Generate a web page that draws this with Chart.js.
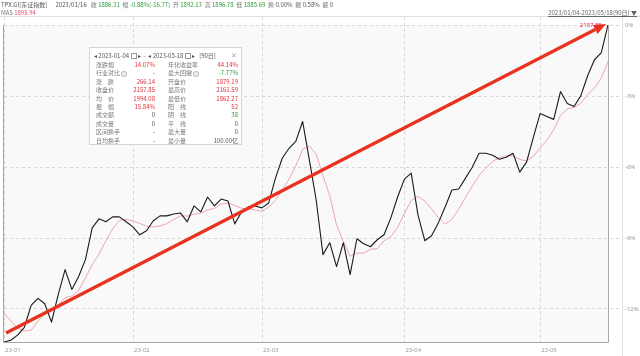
<!DOCTYPE html>
<html>
<head>
<meta charset="utf-8">
<script src="https://cdn.jsdelivr.net/npm/chart.js@4.4.0/dist/chart.umd.min.js"></script>
<style>
  html, body { margin: 0; padding: 0; background: #fff; }
  #wrap { position: relative; width: 640px; height: 356px; overflow: hidden;
          font-family: "Noto Sans CJK SC", "Noto Sans", sans-serif; }
  canvas { position: absolute; left: 0; top: 0; }
  .hdr { position: absolute; left: 1px; top: 1px; font-size: 6px; line-height: 7px; color: #777; white-space: pre; }
  .hdr2 { position: absolute; left: 1px; top: 9px; font-size: 6px; line-height: 7px; color: #777; white-space: pre; }
  .range { position: absolute; right: 3px; top: 9px; font-size: 6px; line-height: 7px; color: #666;
           text-decoration: underline; white-space: pre; }
  .g { color: #2f9a3c; }
  .r { color: #e0303a; }
  .k { color: #555; }
  .p { color: #e0506a; }
  #panel { position: absolute; left: 89px; top: 47px; width: 153px; height: 98px;
           background: rgba(255,255,255,0.96); border: 1px solid #d4d4d4; box-sizing: border-box;
           font-size: 6px; color: #777; }
  #panel .title { position: absolute; left: 4px; top: 4px; height: 8px; line-height: 8px; white-space: pre; color: #555; }
  #panel .x { position: absolute; right: 4px; top: 3px; line-height: 8px; color: #aaa; font-size: 7px; }
  #panel .row { position: absolute; left: 0; width: 100%; height: 8px; line-height: 8px; }
  #panel .l1 { position: absolute; left: 6px; }
  #panel .v1 { position: absolute; right: 86px; }
  #panel .l2 { position: absolute; left: 78px; }
  #panel .v2 { position: absolute; right: 3px; }
  .q { display: inline-block; width: 4px; height: 4px; border: 0.5px solid #aaa; border-radius: 50%;
       font-size: 4px; line-height: 4px; text-align: center; color: #aaa; vertical-align: middle; }
  .cal { display: inline-block; width: 4px; height: 4px; border: 0.5px solid #999; vertical-align: middle; }
</style>
</head>
<body>
<div id="wrap">
  <canvas id="myChart" width="640" height="356"></canvas>
  <div class="hdr"><span class="k">TPX.GI[东证指数]</span>      <span class="k">2023/01/16</span>   收 <span class="g">1886.31</span>  幅 <span class="g">-0.88%(-16.77)</span>  开 <span class="g">1892.13</span>  高 <span class="g">1896.78</span>  低 <span class="g">1885.69</span>  换 <span class="k">0.00%</span>  振 <span class="k">0.58%</span>  额 <span class="k">0</span></div>
  <div class="hdr2">MA5 <span class="p">1895.94</span></div>
  <div class="range">2023/01/04-2023/05/18(90日) ▼</div>
  <div id="panel"></div>
</div>
<script>
// closes of TPX.GI, 2023-01-04 .. 2023-05-18 (90 trading days)
const closes = [
  1868.2, 1869.8, 1874.4, 1881.6, 1901.6, 1908.0, 1903.1, 1886.3, 1911.6, 1934.3,
  1916.2, 1928.0, 1943.4, 1972.5, 1980.7, 1978.0, 1982.5, 1982.5, 1978.0, 1973.4,
  1966.1, 1969.8, 1978.9, 1983.4, 1983.4, 1985.2, 1986.1, 1978.0, 1992.5, 1987.0,
  2000.7, 1992.5, 1998.8, 1997.0, 1976.1, 1987.0, 1991.6, 1992.5, 1990.7, 1995.2,
  2017.9, 2036.1, 2045.2, 2051.5, 2069.7, 2034.3, 1997.9, 1948.0, 1958.9, 1937.1,
  1958.9, 1929.8, 1962.5, 1958.0, 1955.2, 1961.6, 1966.1, 1981.6, 2000.7, 2017.0,
  2022.5, 1984.3, 1960.7, 1965.2, 1977.0, 1991.6, 2007.0, 2007.9, 2017.9, 2027.9,
  2040.6, 2040.6, 2038.8, 2035.2, 2037.0, 2040.6, 2023.4, 2032.5, 2055.2, 2077.0,
  2074.3, 2071.6, 2097.0, 2086.1, 2083.4, 2093.3, 2111.5, 2126.1, 2132.4, 2157.85
];

// MA5 line as shown
const ma5 = [
  1894.6, 1887.3, 1880.9, 1878.2, 1879.1, 1887.1, 1893.7, 1896.1, 1902.1, 1908.7,
  1910.3, 1915.3, 1926.7, 1938.9, 1948.2, 1960.5, 1971.4, 1979.2, 1980.3, 1978.9,
  1976.5, 1974.0, 1973.2, 1974.3, 1976.3, 1980.1, 1983.4, 1983.2, 1985.0, 1985.8,
  1988.9, 1990.1, 1994.3, 1995.2, 1993.0, 1990.3, 1990.1, 1988.8, 1987.6, 1991.4,
  1997.6, 2006.5, 2017.0, 2029.2, 2044.1, 2047.4, 2039.7, 2020.3, 2001.8, 1975.2,
  1960.2, 1946.5, 1949.4, 1949.3, 1952.9, 1953.4, 1960.7, 1964.5, 1973.0, 1985.4,
  1997.6, 2001.2, 1997.0, 1989.9, 1981.9, 1975.8, 1980.3, 1989.7, 2000.3, 2010.5,
  2020.3, 2027.0, 2033.2, 2036.6, 2038.4, 2038.4, 2035.0, 2033.7, 2037.7, 2045.7,
  2052.5, 2062.1, 2075.0, 2081.2, 2082.5, 2086.3, 2094.3, 2100.1, 2109.3, 2124.2
];

// x axis: first trading day index of each month
const monthStart = [0, 19, 38, 59, 79];
const monthLabels = ["23-01", "23-02", "23-03", "23-04", "23-05"];

// y axis: percent from the last close
const pctTicks = [0, -3, -6, -9, -12];
const pctLabels = ["0%", "-3%", "-6%", "-9%", "-12%"];

// hand-drawn arrow (index, price)
const arrowFrom = [0.3, 1876.4];
const arrowTo = [88.7, 2158.8];

const lastClose = closes[closes.length - 1];

/////////////////// INFO PANEL ///////////////////
const panelRows = [
  ["涨跌幅", "14.07%", "r", "年化收益率", "44.14%", "r"],
  ["行业对比 <span class='q'>?</span>", "-", "k", "最大回撤 <span class='q'>?</span>", "-7.77%", "g"],
  ["涨　跌", "266.14", "r", "开盘价", "1879.19", "r"],
  ["收盘价", "2157.85", "r", "最高价", "2161.59", "r"],
  ["均　价", "1994.08", "r", "最低价", "1862.27", "r"],
  ["振　幅", "15.84%", "r", "阳　线", "52", "r"],
  ["成交额", "0", "k", "阴　线", "38", "g"],
  ["成交量", "0", "k", "平　线", "0", "k"],
  ["区间换手", "-", "k", "最大量", "0", "k"],
  ["日均换手", "-", "k", "最小量", "100.00亿", "k"]
];

function buildPanel() {
  const panel = document.getElementById("panel");
  let html = "<div class='title'>◂ 2023-01-04 <span class='cal'></span> ▸  -  ◂ 2023-05-18 <span class='cal'></span> ▸   [90日]</div>";
  html += "<div class='x'>✕</div>";
  panelRows.forEach((r, i) => {
    const top = 13 + i * 8.4;
    html += "<div class='row' style='top:" + top + "px'>" +
      "<span class='l1'>" + r[0] + "</span><span class='v1 " + r[2] + "'>" + r[1] + "</span>" +
      "<span class='l2'>" + r[3] + "</span><span class='v2 " + r[5] + "'>" + r[4] + "</span></div>";
  });
  panel.innerHTML = html;
}
buildPanel();

/////////////////// CHART DECORATION ///////////////////
const decor = {
  id: "decor",
  beforeDraw(chart) {
    const { ctx, chartArea: a, scales: { x, y } } = chart;
    ctx.save();
    ctx.fillStyle = "#f9f9f9";
    ctx.fillRect(a.left, a.top, a.right - a.left, a.bottom - a.top);

    // top separator
    ctx.strokeStyle = "#e0e0e0";
    ctx.lineWidth = 1;
    ctx.beginPath();
    ctx.moveTo(0, 16.5);
    ctx.lineTo(640, 16.5);
    ctx.stroke();

    // right axis separator
    ctx.beginPath();
    ctx.moveTo(622.5, 17);
    ctx.lineTo(622.5, 356);
    ctx.stroke();

    // dashed grid
    ctx.setLineDash([3, 3]);
    ctx.strokeStyle = "#d6d6d6";
    monthStart.forEach((i) => {
      const px = Math.round(x.getPixelForValue(i)) + 0.5;
      ctx.beginPath();
      ctx.moveTo(px, 17);
      ctx.lineTo(px, a.bottom);
      ctx.stroke();
    });
    pctTicks.forEach((p) => {
      const py = Math.round(y.getPixelForValue(lastClose * (1 + p / 100))) + 0.5;
      ctx.beginPath();
      ctx.moveTo(a.left, py);
      ctx.lineTo(623, py);
      ctx.stroke();
    });
    ctx.setLineDash([]);

    // plot border
    ctx.strokeStyle = "#a8a8a8";
    ctx.beginPath();
    ctx.moveTo(a.left - 0.5, a.top);
    ctx.lineTo(a.left - 0.5, a.bottom + 0.5);
    ctx.lineTo(a.right + 0.5, a.bottom + 0.5);
    ctx.lineTo(a.right + 0.5, a.top);
    ctx.stroke();

    // tick labels
    ctx.font = "6px 'Noto Sans', sans-serif";
    ctx.fillStyle = "#999";
    ctx.textBaseline = "middle";
    ctx.textAlign = "left";
    pctTicks.forEach((p, k) => {
      const py = y.getPixelForValue(lastClose * (1 + p / 100));
      ctx.fillText(pctLabels[k], 625, py + 0.5);
    });
    monthStart.forEach((i, k) => {
      const px = x.getPixelForValue(i);
      ctx.fillText(monthLabels[k], px + 1, a.bottom + 8);
    });
    ctx.restore();
  },
  afterDatasetsDraw(chart) {
    const { ctx, scales: { x, y } } = chart;
    const x0 = x.getPixelForValue(arrowFrom[0]);
    const y0 = y.getPixelForValue(arrowFrom[1]);
    const x1 = x.getPixelForValue(arrowTo[0]);
    const y1 = y.getPixelForValue(arrowTo[1]);
    const ang = Math.atan2(y1 - y0, x1 - x0);
    const headLen = 12, headW = 5;
    const bx = x1 - headLen * Math.cos(ang);
    const by = y1 - headLen * Math.sin(ang);
    ctx.save();
    ctx.strokeStyle = "#e8321e";
    ctx.fillStyle = "#e8321e";
    ctx.lineWidth = 3.2;
    ctx.lineCap = "butt";
    ctx.beginPath();
    ctx.moveTo(x0, y0);
    ctx.lineTo(bx, by);
    ctx.stroke();
    ctx.beginPath();
    ctx.moveTo(x1, y1);
    ctx.lineTo(bx + headW * Math.sin(ang), by - headW * Math.cos(ang));
    ctx.lineTo(bx - headW * Math.sin(ang), by + headW * Math.cos(ang));
    ctx.closePath();
    ctx.fill();

    // last close label
    ctx.font = "6px 'Noto Sans', sans-serif";
    ctx.fillStyle = "#e0303a";
    ctx.textAlign = "right";
    ctx.textBaseline = "middle";
    ctx.fillText(lastClose.toFixed(2), x.getPixelForValue(closes.length - 1) - 6, y.getPixelForValue(lastClose));
    ctx.restore();
  }
};

/////////////////// CHART ///////////////////
const data = {
  datasets: [
    {
      label: "MA5",
      data: ma5.map((v, i) => ({ x: i, y: v })),
      borderColor: "#e8909e",
      borderWidth: 0.8,
      pointRadius: 0,
      tension: 0,
      order: 2
    },
    {
      label: "TPX.GI",
      data: closes.map((v, i) => ({ x: i, y: v })),
      borderColor: "#1a1a1a",
      borderWidth: 1.1,
      pointRadius: 0,
      tension: 0,
      order: 1
    }
  ]
};

const config = {
  type: "line",
  data: data,
  options: {
    responsive: false,
    devicePixelRatio: 1,
    animation: false,
    layout: { padding: { left: 4, right: 32, top: 25, bottom: 14 } },
    plugins: { legend: { display: false }, tooltip: { enabled: false } },
    scales: {
      x: { type: "linear", min: 0, max: closes.length - 1, display: false },
      y: { type: "linear", min: 1868.15, max: 2157.85, display: false }
    },
    elements: { line: { borderCapStyle: "round", borderJoinStyle: "round" } }
  },
  plugins: [decor]
};

const myChart = new Chart(document.getElementById("myChart"), config);
</script>
</body>
</html>
